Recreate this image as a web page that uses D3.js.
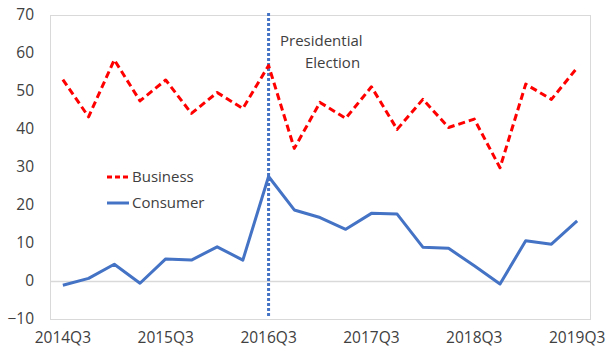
<!DOCTYPE html>
<html>
<head>
<meta charset="utf-8">
<script src="https://cdn.jsdelivr.net/npm/d3@7"></script>
<style>
  html, body { margin: 0; padding: 0; background: #fff; overflow: hidden; }
  svg { display: block; font-family: "Open Sans", "Noto Sans", sans-serif; }
</style>
</head>
<body>
<svg id="chart" width="607" height="347"></svg>
<script>
// Quarterly sentiment series, 2014Q3 through 2019Q3
const quarters = [
  "2014Q3","2014Q4","2015Q1","2015Q2","2015Q3","2015Q4","2016Q1","2016Q2",
  "2016Q3","2016Q4","2017Q1","2017Q2","2017Q3","2017Q4","2018Q1","2018Q2",
  "2018Q3","2018Q4","2019Q1","2019Q2","2019Q3"
];
const business = [53.0, 43.2, 58.2, 47.4, 52.9, 44.1, 49.6, 45.4, 56.7, 34.9,
                  47.0, 42.8, 51.1, 39.9, 47.8, 40.4, 42.6, 29.8, 51.8, 47.8, 56.1];
const consumer = [-1.1, 0.7, 4.4, -0.6, 5.8, 5.5, 9.0, 5.5, 27.5, 18.7,
                  16.7, 13.6, 17.8, 17.6, 8.9, 8.6, 4.0, -0.8, 10.6, 9.7, 15.8];
const yTicks = [-10, 0, 10, 20, 30, 40, 50, 60, 70];
const xTickLabels = ["2014Q3","2015Q3","2016Q3","2017Q3","2018Q3","2019Q3"];
const electionQuarter = "2016Q3";
const legendItems = [
  { name: "Business", values: business, color: "#ff0000", dash: "7,4" },
  { name: "Consumer", values: consumer, color: "#4472c4", dash: null }
];

const svg = d3.select("#chart");
const plot = { left: 50, top: 15, right: 590, bottom: 319 };

const x = d3.scaleBand().domain(quarters).range([plot.left, plot.right]).padding(0);
const y = d3.scaleLinear().domain([-10, 70]).range([plot.bottom, plot.top]);
const cx = q => x(q) + x.bandwidth() / 2;

// plot-area frame
svg.append("rect")
  .attr("x", plot.left + 0.5).attr("y", plot.top + 0.5)
  .attr("width", plot.right - plot.left).attr("height", plot.bottom - plot.top)
  .attr("fill", "none").attr("stroke", "#d9d9d9").attr("stroke-width", 1);

// category axis line at zero
svg.append("line")
  .attr("x1", plot.left).attr("x2", plot.right)
  .attr("y1", Math.round(y(0)) + 0.5).attr("y2", Math.round(y(0)) + 0.5)
  .attr("stroke", "#d9d9d9").attr("stroke-width", 1.5);

// value axis labels
const yAxis = d3.axisLeft(y).tickValues(yTicks).tickSize(0).tickPadding(0).tickFormat(d3.format("d"));
const yg = svg.append("g").attr("transform", `translate(34,0)`).call(yAxis);
yg.select(".domain").remove();
yg.selectAll("text").attr("font-size", 15.5).attr("fill", "#404040")
  .attr("font-family", "'Open Sans', 'Noto Sans', sans-serif");

// category labels every fourth quarter
const xAxis = d3.axisBottom(x).tickValues(xTickLabels).tickSize(0).tickPadding(0);
const xg = svg.append("g").attr("transform", `translate(0,332)`).call(xAxis);
xg.select(".domain").remove();
xg.selectAll("text").attr("font-size", 15.5).attr("fill", "#404040")
  .attr("font-family", "'Open Sans', 'Noto Sans', sans-serif");

// election marker
svg.append("line")
  .attr("x1", cx(electionQuarter)).attr("x2", cx(electionQuarter))
  .attr("y1", 13).attr("y2", 316)
  .attr("stroke", "#4472c4").attr("stroke-width", 3)
  .attr("stroke-dasharray", "3,2");

// series lines
const line = vals => d3.line()
  .x((d, i) => cx(quarters[i]))
  .y(d => y(d))(vals);

legendItems.slice().reverse().forEach(s => {
  svg.append("path")
    .attr("d", line(s.values))
    .attr("fill", "none")
    .attr("stroke", s.color)
    .attr("stroke-width", 3)
    .attr("stroke-linejoin", "round")
    .attr("stroke-dasharray", s.dash);
});

// annotation
const ann = svg.append("text")
  .attr("font-size", 15).attr("fill", "#404040");
ann.append("tspan").attr("x", 280).attr("y", 46).text("Presidential");
ann.append("tspan").attr("x", 305).attr("y", 68).text("Election");

// legend
const lg = svg.append("g");
legendItems.forEach((s, i) => {
  const ly = 177 + i * 26;
  lg.append("line")
    .attr("x1", 107).attr("x2", 129).attr("y1", ly).attr("y2", ly)
    .attr("stroke", s.color).attr("stroke-width", 3)
    .attr("stroke-dasharray", s.dash ? "5,3" : null);
  lg.append("text")
    .attr("x", 132).attr("y", ly).attr("dy", "0.35em")
    .attr("font-size", 15).attr("fill", "#404040")
    .text(s.name);
});
</script>
</body>
</html>
